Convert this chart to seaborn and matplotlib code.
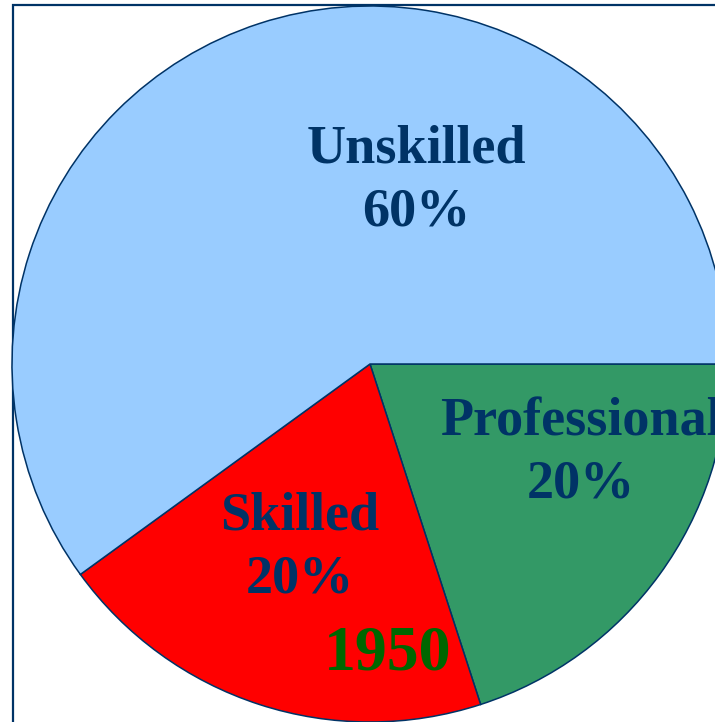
import matplotlib
matplotlib.use("Agg")
import matplotlib.pyplot as plt
import seaborn as sns
from matplotlib.patches import Rectangle

# data
categories = ["Professional", "Skilled", "Unskilled"]
shares = [20, 20, 60]
colors = ["#339966", "#FF0000", "#99CCFF"]
year = "1950"

# label anchors (baseline of the percent line), in pie-radius units
label_pos = {"Professional": (0.588, -0.372),
             "Skilled": (-0.196, -0.637),
             "Unskilled": (0.130, 0.388)}
year_pos = (0.050, -0.852)

sns.set_style("white")
plt.rcParams['font.family'] = ['Liberation Serif', 'DejaVu Serif']

navy = "#003366"

fig = plt.figure(figsize=(7.15, 7.22), dpi=100)
ax = fig.add_axes([0, 0, 1, 1])
ax.set_axis_off()

# frame (runs off the right and bottom edges)
ax.add_patch(Rectangle((13 / 715, -0.5), 2, 1 - 5 / 722 + 0.5,
                       transform=ax.transAxes, fill=False, edgecolor=navy,
                       linewidth=1.6, zorder=0, clip_on=False))

ax.pie(shares, colors=colors, startangle=0, counterclock=False, radius=1,
       center=(0, 0), wedgeprops=dict(edgecolor=navy, linewidth=1.1),
       frame=False)

for cat, val in zip(categories, shares):
    x, y = label_pos[cat]
    ax.text(x, y, f"{cat}\n{val}%", ha="center", va="baseline",
            fontsize=39, fontweight="bold", color=navy, linespacing=1.32,
            multialignment="center")

ax.text(year_pos[0], year_pos[1], year, ha="center", va="baseline",
        fontsize=46, fontweight="bold", color="#006600")

# 358 px per unit, centre at pixel (370, 364)
ax.set_xlim(-370 / 358, (715 - 370) / 358)
ax.set_ylim(-(722 - 364) / 358, 364 / 358)
ax.set_aspect("auto")

fig.savefig("out.png", dpi=100)
